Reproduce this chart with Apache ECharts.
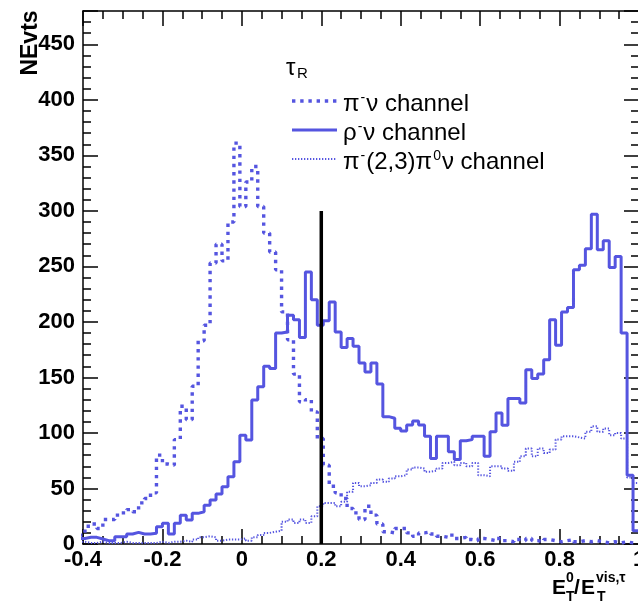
<!DOCTYPE html>
<html><head><meta charset="utf-8">
<script src="https://cdn.jsdelivr.net/npm/echarts@6/dist/echarts.min.js"></script>
<style>html,body{margin:0;padding:0;background:#fff}#c{width:638px;height:605px}</style>
</head><body><div id="c"></div>
<script>
// histogram binning: bins of width 0.015, first visible bin starts at -0.41
const firstEdge = -0.41;
const binWidth = 0.015;
// pi- nu channel (dotted)
const piNu = [8,16,18,14,22,22,26,28,31,29,37,41,46,80,72,71,94,124,112,142,183,197,253,270,255,290,361,304,326,340,304,280,263,247,209,184,153,128,130,119,95,71,52,46,41,32,28,22,34,26,18,11,10,14,14,10,7,10,11,9,
  7,6,8,5,6,4,3,5,4,3,5,3,2,4,3,5,3,2,4,3,2,3,4,2,3,2,3,2,1,2,1,2,1,1];
// rho- nu channel (solid)
const rhoNu = [5,6,6,4.5,3,3,6.6,6.6,9,10.5,9,9,9.6,15.6,18.6,9,18.6,26,21.6,27.6,29,35,39.6,45,51.6,60.6,74,98,93.7,129.7,141.7,160,158,190,191,206,202,186,245,220,197,201,218,191,177,185,178,163,155,163,144,114.7,113.2,104.2,101.8,107.2,110.8,107.2,97,77,
  97,97,83,76,93,94,97,97,79,101,118,107,131,131,127,157,149,153,166,202,179,209,213,247,251,266,297,265,273,249,259,190,62,12];
// pi-(2,3)pi0 nu channel (fine dotted)
const pi23 = [2,1,1,2,1,1,1,2,1,1,1,1,1,2,1,2,2,3,2,4,6,7,6,3,4,4,4,5,3,6,8,10,11,12,20,22,19,22,19,25,34,37,37,34,38,47,55,52,53,55,58,56,59,61,62,67,69,68,65,66,
  68,73,74,71,73,70,73,62,61,70,70,68,66,74,79,86,79,86,82,85,94,97,97,96,95,101,106,101,104,98,100,95,60,55];
// cut line
const cutX = 0.2, cutTop = 300;

function steps(vals) {
  const pts = [];
  vals.forEach((v, i) => {
    const lo = firstEdge + i * binWidth;
    pts.push([lo, v], [lo + binWidth, v]);
  });
  return pts;
}

const BLUE = '#5555e0';
const FONT = '"Liberation Sans", Arial, sans-serif';
function axisCommon(split) {
  return {
    axisLine: {show: true, onZero: false, lineStyle: {color: '#000', width: 1.5}},
    axisTick: {show: true, inside: true, length: 15, lineStyle: {color: '#000', width: 1.5}},
    minorTick: {show: true, splitNumber: split, length: 8, lineStyle: {color: '#000', width: 1.5}},
    splitLine: {show: false}
  };
}
const labelStyle = {fontSize: 22, fontWeight: 'bold', fontFamily: FONT, color: '#000'};
const PI_STYLE = {width: 3.4, dash: [3.4, 4.8]};
const RHO_STYLE = {width: 3};
const P23_STYLE = {width: 2, dash: [1.3, 1.7]};

const chart = echarts.init(document.getElementById('c'), null, {renderer: 'canvas'});
chart.setOption({
  animation: false,
  backgroundColor: '#fff',
  grid: {left: 83, top: 11, width: 556, height: 533, containLabel: false, outerBoundsMode: 'none'},
  xAxis: [
    Object.assign({type: 'value', min: -0.4, max: 1.0, interval: 0.2, position: 'bottom',
      axisLabel: Object.assign({margin: 5, formatter: v => String(Math.round(v * 10) / 10)}, labelStyle)}, axisCommon(4)),
    Object.assign({type: 'value', min: -0.4, max: 1.0, interval: 0.2, position: 'top', axisLabel: {show: false}}, axisCommon(4))
  ],
  yAxis: [
    Object.assign({type: 'value', min: 0, max: 480, interval: 50, position: 'left',
      axisLabel: Object.assign({margin: 8, showMaxLabel: false}, labelStyle)}, axisCommon(5)),
    Object.assign({type: 'value', min: 0, max: 480, interval: 50, position: 'right', axisLabel: {show: false}}, axisCommon(5))
  ],
  series: [
    {name: 'pi', type: 'line', data: steps(piNu), symbol: 'none', clip: true,
      lineStyle: {color: BLUE, width: PI_STYLE.width, type: PI_STYLE.dash, cap: 'butt'}},
    {name: 'rho', type: 'line', data: steps(rhoNu), symbol: 'none', clip: true,
      lineStyle: {color: BLUE, width: RHO_STYLE.width}},
    {name: 'pi23', type: 'line', data: steps(pi23), symbol: 'none', clip: true,
      lineStyle: {color: BLUE, width: P23_STYLE.width, type: P23_STYLE.dash}},
    {name: 'cut', type: 'line', data: [[cutX, 0], [cutX, cutTop]], symbol: 'none',
      lineStyle: {color: '#000', width: 3.5}}
  ],
  graphic: [
    {type: 'text', x: 31, y: 43, rotation: Math.PI / 2,
      style: {text: 'NEvts', align: 'center', verticalAlign: 'middle', font: 'bold 23px ' + FONT, fill: '#000'}},
    {type: 'text', x: 286, y: 56, style: {text: 'τ', font: '24px ' + FONT, fill: '#000'}},
    {type: 'text', x: 297, y: 66, style: {text: 'R', font: '15px ' + FONT, fill: '#000'}},
    {type: 'line', shape: {x1: 292, y1: 101, x2: 337, y2: 101}, style: {stroke: BLUE, lineWidth: PI_STYLE.width, lineDash: PI_STYLE.dash}},
    {type: 'line', shape: {x1: 292, y1: 130, x2: 337, y2: 130}, style: {stroke: BLUE, lineWidth: RHO_STYLE.width}},
    {type: 'line', shape: {x1: 292, y1: 159, x2: 337, y2: 159}, style: {stroke: BLUE, lineWidth: P23_STYLE.width, lineDash: P23_STYLE.dash}},
    {type: 'text', x: 343, y: 104, style: {text: '{n|π}{s|-}{n|ν channel}', verticalAlign: 'middle',
      rich: {n: {font: '24px ' + FONT, fill: '#000'}, s: {font: '14px ' + FONT, fill: '#000', padding: [0, 1, 12, 1]}}}},
    {type: 'text', x: 343, y: 133, style: {text: '{n|ρ}{s|-}{n|ν channel}', verticalAlign: 'middle',
      rich: {n: {font: '24px ' + FONT, fill: '#000'}, s: {font: '14px ' + FONT, fill: '#000', padding: [0, 1, 12, 1]}}}},
    {type: 'text', x: 343, y: 162, style: {text: '{n|π}{s|-}{n|(2,3)π}{s|0}{n|ν channel}', verticalAlign: 'middle',
      rich: {n: {font: '24px ' + FONT, fill: '#000'}, s: {font: '14px ' + FONT, fill: '#000', padding: [0, 1, 12, 1]}}}},
    {type: 'text', x: 552, y: 578, style: {text: 'E', font: 'bold 21px ' + FONT, fill: '#000'}},
    {type: 'text', x: 566, y: 571, style: {text: '0', font: 'bold 14px ' + FONT, fill: '#000'}},
    {type: 'text', x: 566, y: 590, style: {text: 'T', font: 'bold 14px ' + FONT, fill: '#000'}},
    {type: 'text', x: 574, y: 578, style: {text: '/', font: 'bold 21px ' + FONT, fill: '#000'}},
    {type: 'text', x: 581, y: 578, style: {text: 'E', font: 'bold 21px ' + FONT, fill: '#000'}},
    {type: 'text', x: 596, y: 571, style: {text: 'vis,τ', font: 'bold 14px ' + FONT, fill: '#000'}},
    {type: 'text', x: 597, y: 590, style: {text: 'T', font: 'bold 14px ' + FONT, fill: '#000'}}
  ]
});
</script></body></html>
